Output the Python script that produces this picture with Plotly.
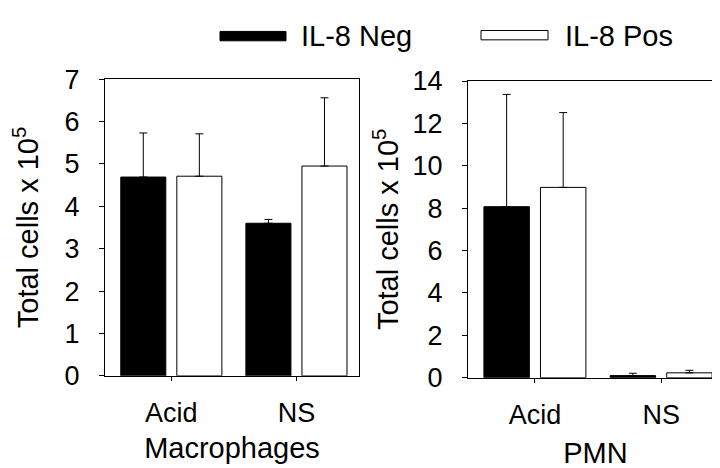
import plotly.graph_objects as go

categories = ["Acid", "NS"]
series_names = ["IL-8 Neg", "IL-8 Pos"]

mac_neg = [4.69, 3.60]
mac_neg_err = [1.04, 0.09]
mac_pos = [4.71, 4.95]
mac_pos_err = [1.00, 1.61]

pmn_neg = [8.07, 0.10]
pmn_neg_err = [5.30, 0.11]
pmn_pos = [8.98, 0.23]
pmn_pos_err = [3.53, 0.12]

mac_ticks = [0, 1, 2, 3, 4, 5, 6, 7]
pmn_ticks = [0, 2, 4, 6, 8, 10, 12, 14]

FONT = "Liberation Sans, Arial, sans-serif"
BW = 0.36
OFF = 0.224

fig = go.Figure()

def add_pair(neg, neg_err, pos, pos_err, xa, ya):
    fig.add_trace(go.Bar(
        x=[0, 1], y=neg, name=series_names[0], width=BW, offset=-OFF - BW / 2,
        marker=dict(color="black", line=dict(color="black", width=1)),
        error_y=dict(type="data", symmetric=False, array=neg_err, arrayminus=[0] * len(neg),
                     color="black", thickness=1, width=4),
        xaxis=xa, yaxis=ya, showlegend=False))
    fig.add_trace(go.Bar(
        x=[0, 1], y=pos, name=series_names[1], width=BW, offset=OFF - BW / 2,
        marker=dict(color="white", line=dict(color="black", width=1)),
        error_y=dict(type="data", symmetric=False, array=pos_err, arrayminus=[0] * len(pos),
                     color="black", thickness=1, width=4),
        xaxis=xa, yaxis=ya, showlegend=False))

add_pair(mac_neg, mac_neg_err, mac_pos, mac_pos_err, "x", "y")
add_pair(pmn_neg, pmn_neg_err, pmn_pos, pmn_pos_err, "x2", "y2")

axis_common = dict(showline=True, linecolor="black", linewidth=1, mirror=True,
                   showgrid=False, zeroline=False, ticks="outside", tickcolor="black",
                   tickfont=dict(family=FONT, size=27, color="black"))

TITLE_FONT = dict(family=FONT, size=29, color="black")

fig.update_layout(
    width=720, height=468,
    margin=dict(l=0, r=0, t=0, b=0),
    paper_bgcolor="white", plot_bgcolor="white",
    barmode="overlay",
    showlegend=False,
    font=dict(family=FONT, size=27, color="black"),
    xaxis=dict(domain=[97 / 720, 351 / 720], range=[-0.53, 1.5],
               tickmode="array", tickvals=[0, 1], ticktext=categories, ticklen=4,
               ticklabelstandoff=9,
               title=dict(text="Macrophages", font=TITLE_FONT, standoff=10),
               anchor="y", **axis_common),
    yaxis=dict(domain=[91 / 468, 408 / 468], range=[0, 7],
               tickvals=mac_ticks, ticklen=5, ticklabelstandoff=14,
               title=dict(text="Total cells x 10<sup>5</sup>", font=TITLE_FONT, standoff=20),
               anchor="x", **axis_common),
    xaxis2=dict(domain=[460 / 720, 715 / 720], range=[-0.53, 1.49],
                tickmode="array", tickvals=[0, 1], ticktext=categories, ticklen=4,
                ticklabelstandoff=9,
                title=dict(text="PMN", font=TITLE_FONT, standoff=13),
                anchor="y2", **axis_common),
    yaxis2=dict(domain=[89 / 468, 406 / 468], range=[0, 14],
                tickvals=pmn_ticks, ticklen=5, ticklabelstandoff=14,
                title=dict(text="Total cells x 10<sup>5</sup>", font=TITLE_FONT, standoff=5),
                anchor="x2", **axis_common),
)

# Legend drawn manually (wide swatches as in the original)
fig.add_shape(type="rect", xref="paper", yref="paper",
              x0=212 / 720, x1=278 / 720, y0=1 - 19 / 468, y1=1 - 9 / 468,
              fillcolor="black", line=dict(color="black", width=1))
fig.add_annotation(xref="paper", yref="paper", x=291 / 720, y=1 - 14 / 468,
                   text=series_names[0], showarrow=False, xanchor="left", yanchor="middle",
                   font=TITLE_FONT)
fig.add_shape(type="rect", xref="paper", yref="paper",
              x0=473 / 720, x1=540 / 720, y0=1 - 18 / 468, y1=1 - 8 / 468,
              fillcolor="white", line=dict(color="black", width=1))
fig.add_annotation(xref="paper", yref="paper", x=555 / 720, y=1 - 14 / 468,
                   text=series_names[1], showarrow=False, xanchor="left", yanchor="middle",
                   font=TITLE_FONT)

fig.write_html("out.html")
